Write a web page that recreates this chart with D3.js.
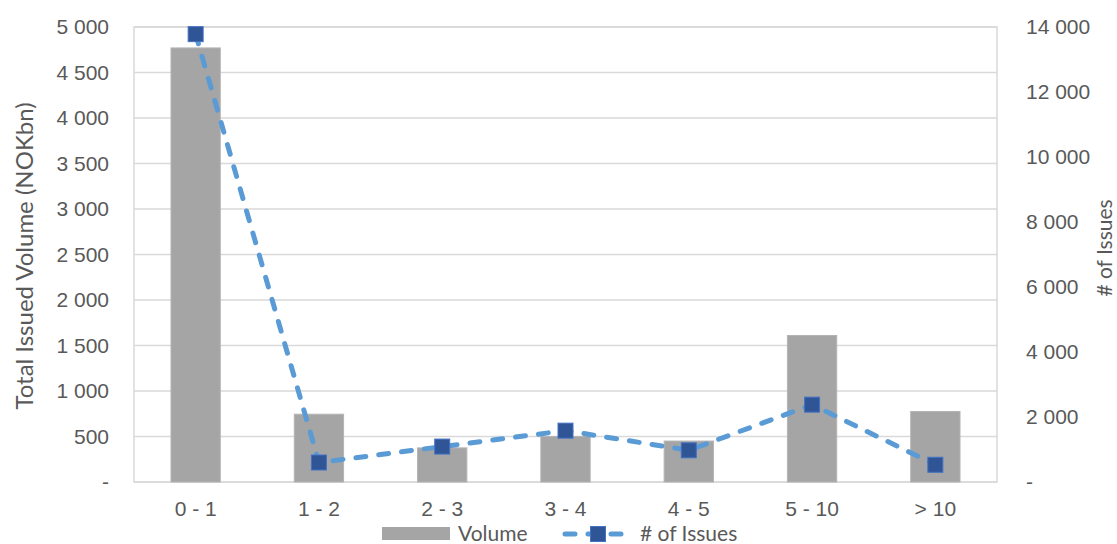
<!DOCTYPE html>
<html>
<head>
<meta charset="utf-8">
<script src="https://cdn.jsdelivr.net/npm/d3@7"></script>
<style>
  html, body { margin: 0; padding: 0; background: #fff; }
  svg { display: block; font-family: Lato, "Open Sans", sans-serif; }
</style>
</head>
<body>
<svg id="chart" width="1117" height="544"></svg>
<script>
// Maturity buckets (years)
const categories = ["0 - 1", "1 - 2", "2 - 3", "3 - 4", "4 - 5", "5 - 10", "> 10"];
// Total issued volume, NOK bn
const volume = [4770, 745, 375, 500, 450, 1610, 775];
// Number of issues
const issues = [13780, 600, 1090, 1580, 975, 2380, 530];
// Axis ticks
const leftTicks = [0, 500, 1000, 1500, 2000, 2500, 3000, 3500, 4000, 4500, 5000];
const rightTicks = [0, 2000, 4000, 6000, 8000, 10000, 12000, 14000];

const svg = d3.select("#chart");
const plot = { left: 134, right: 997, top: 27, bottom: 482 };
const textColor = "#595959";
const gridColor = "#D9D9D9";

const x = d3.scaleBand().domain(categories).range([plot.left, plot.right]).paddingInner(0.6).paddingOuter(0.3);
const xc = d3.scaleBand().domain(categories).range([plot.left, plot.right]);
const yL = d3.scaleLinear().domain([0, 5000]).range([plot.bottom, plot.top]);
const yR = d3.scaleLinear().domain([0, 14000]).range([plot.bottom, plot.top]);

const fmt = d => d === 0 ? "-" : d3.format(",")(d).replace(/,/g, " ");

// Horizontal gridlines
svg.append("g").selectAll("line").data(leftTicks).join("line")
  .attr("x1", plot.left).attr("x2", plot.right)
  .attr("y1", d => yL(d)).attr("y2", d => yL(d))
  .attr("stroke", gridColor).attr("stroke-width", 1.5);

// Plot frame
svg.append("rect")
  .attr("x", plot.left).attr("y", plot.top)
  .attr("width", plot.right - plot.left).attr("height", plot.bottom - plot.top)
  .attr("fill", "none").attr("stroke", gridColor).attr("stroke-width", 1.5);

// Volume bars
svg.append("g").selectAll("rect").data(categories).join("rect")
  .attr("x", d => x(d)).attr("width", x.bandwidth())
  .attr("y", (d, i) => yL(volume[i]))
  .attr("height", (d, i) => yL(0) - yL(volume[i]))
  .attr("fill", "#A5A5A5").attr("stroke", "#B4B4B4").attr("stroke-width", 1);

// Left axis
const axL = svg.append("g").attr("transform", `translate(${plot.left},0)`)
  .call(d3.axisLeft(yL).tickValues(leftTicks).tickFormat(fmt).tickSize(0).tickPadding(25));
axL.select(".domain").remove();
axL.selectAll("text").attr("fill", textColor).style("font-size", "21px");

// Right axis
const axR = svg.append("g").attr("transform", `translate(${plot.right},0)`)
  .call(d3.axisRight(yR).tickValues(rightTicks).tickFormat(fmt).tickSize(0).tickPadding(29));
axR.select(".domain").remove();
axR.selectAll("text").attr("fill", textColor).style("font-size", "21px");

// Category axis
const axB = svg.append("g").attr("transform", `translate(0,${plot.bottom})`)
  .call(d3.axisBottom(xc).tickSize(0).tickPadding(19));
axB.select(".domain").remove();
axB.selectAll("text").attr("fill", textColor).style("font-size", "21px");

// Axis titles
svg.append("text")
  .attr("transform", `translate(33,256) rotate(-90)`)
  .attr("text-anchor", "middle").attr("fill", textColor).style("font-size", "24px")
  .text("Total Issued Volume (NOKbn)");
svg.append("text")
  .attr("transform", `translate(1112,248) rotate(-90)`)
  .attr("text-anchor", "middle").attr("fill", textColor).style("font-size", "21px")
  .text("# of Issues");

// Issues line
const cx = d => xc(d) + xc.bandwidth() / 2;
const line = d3.line().x((d, i) => cx(categories[i])).y(d => yR(d));
svg.append("path").datum(issues)
  .attr("d", line).attr("fill", "none")
  .attr("stroke", "#5B9BD5").attr("stroke-width", 5)
  .attr("stroke-linecap", "round").attr("stroke-dasharray", "10 13");

// Markers
const ms = 15;
svg.append("g").selectAll("rect").data(issues).join("rect")
  .attr("x", (d, i) => cx(categories[i]) - ms / 2)
  .attr("y", d => yR(d) - ms / 2)
  .attr("width", ms).attr("height", ms)
  .attr("fill", "#2F5597").attr("stroke", "#4472C4").attr("stroke-width", 1);

// Legend
const legY = 534;
const leg = svg.append("g");
leg.append("rect").attr("x", 382).attr("y", legY - 7).attr("width", 68).attr("height", 13).attr("fill", "#A5A5A5");
leg.append("text").attr("x", 458).attr("y", legY).attr("dy", "0.33em")
  .attr("fill", textColor).style("font-size", "21px").text("Volume");
leg.append("line").attr("x1", 565).attr("x2", 627).attr("y1", legY).attr("y2", legY)
  .attr("stroke", "#5B9BD5").attr("stroke-width", 5).attr("stroke-linecap", "round")
  .attr("stroke-dasharray", "10 13");
leg.append("rect").attr("x", 598 - ms / 2).attr("y", legY - ms / 2).attr("width", ms).attr("height", ms)
  .attr("fill", "#2F5597").attr("stroke", "#4472C4").attr("stroke-width", 1);
leg.append("text").attr("x", 640).attr("y", legY).attr("dy", "0.33em")
  .attr("fill", textColor).style("font-size", "21px").text("# of Issues");
</script>
</body>
</html>
